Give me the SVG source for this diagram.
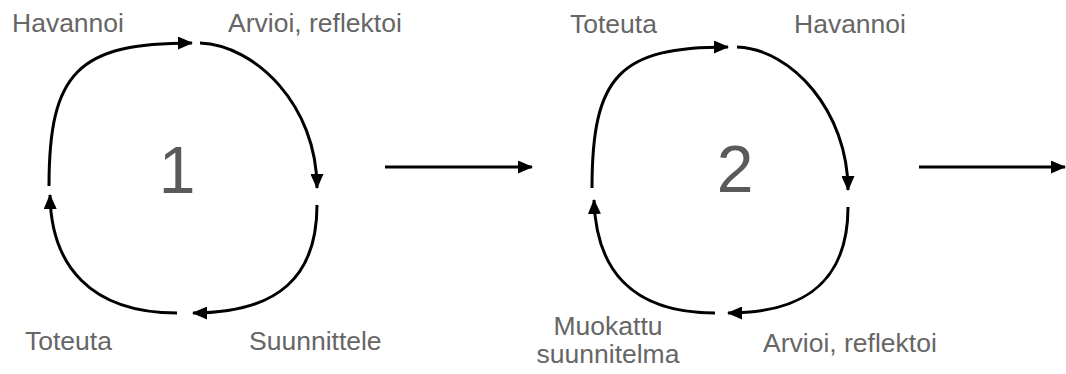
<svg xmlns="http://www.w3.org/2000/svg" width="1066" height="374" viewBox="0 0 1066 374">
<defs>
<marker id="ah" markerUnits="userSpaceOnUse" markerWidth="15" markerHeight="13" refX="14" refY="6.5" orient="auto">
<path d="M0,0 L15,6.5 L0,13 z" fill="#000"/>
</marker>
<style>
.lbl{font-family:"Liberation Sans",Arial,sans-serif;font-size:26.5px;fill:#666}
.num{font-family:"Liberation Sans",Arial,sans-serif;font-size:66px;fill:#5a5a5a;text-anchor:middle}
.arc{fill:none;stroke:#000;stroke-width:3;marker-end:url(#ah)}
</style>
</defs>
<rect width="1066" height="374" fill="#fff"/>
<g id="connectors">
<path class="arc" d="M49,186 C49,72 78,43 192,43"/>
<path class="arc" d="M200,43 C255,45 317,105 317,188"/>
<path class="arc" d="M317,205 C317,275 280,313 193,313"/>
<path class="arc" d="M177,313 C90,313 51,265 50,195"/>
<path class="arc" d="M592,188 C592,75 620,47 728,47"/>
<path class="arc" d="M737,47 C792,49 848,112 848,190"/>
<path class="arc" d="M848,207 C848,277 810,313 728,313"/>
<path class="arc" d="M715,313 C630,313 596,268 594,200"/>
<path class="arc" d="M385,167 L532,167"/>
<path class="arc" d="M919,167 L1065,167"/>
</g>
<g id="cycle1">
<text class="num" x="177" y="193">1</text>
</g>
<g id="c1-havannoi"><text class="lbl" x="12" y="32">Havannoi</text></g>
<g id="c1-arvioi"><text class="lbl" x="228" y="32">Arvioi, reflektoi</text></g>
<g id="c1-toteuta"><text class="lbl" x="25" y="350">Toteuta</text></g>
<g id="c1-suunnittele"><text class="lbl" x="249" y="350">Suunnittele</text></g>
<g id="cycle2">
<text class="num" x="735" y="192">2</text>
</g>
<g id="c2-toteuta"><text class="lbl" x="570" y="33">Toteuta</text></g>
<g id="c2-havannoi"><text class="lbl" x="794" y="33">Havannoi</text></g>
<g id="c2-muokattu"><text class="lbl" text-anchor="middle" x="608" y="335">Muokattu</text><text class="lbl" text-anchor="middle" x="608" y="363">suunnitelma</text></g>
<g id="c2-arvioi"><text class="lbl" x="763" y="352">Arvioi, reflektoi</text></g>
</svg>
